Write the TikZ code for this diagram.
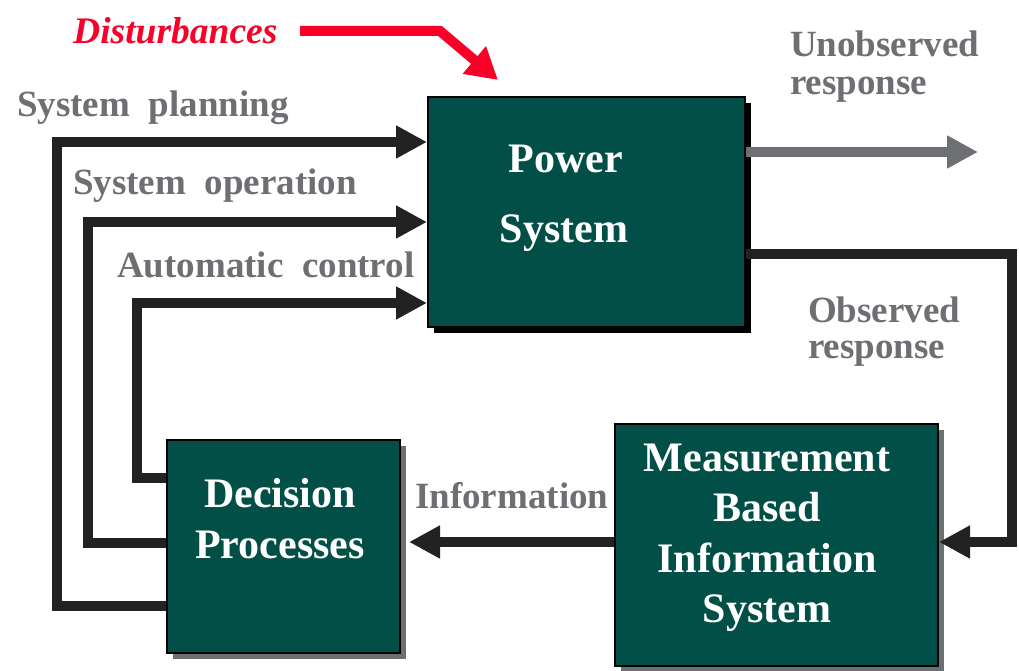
\documentclass[tikz,border=0pt]{standalone}
\usepackage{fontspec}
\setmainfont{Liberation Serif}
\usetikzlibrary{arrows.meta,shadows}
\definecolor{teal}{RGB}{2,79,72}
\definecolor{ink}{RGB}{34,34,34}
\definecolor{labelgray}{RGB}{110,111,114}
\definecolor{alertred}{RGB}{250,0,40}
\tikzset{
  block/.style={draw=black, line width=2pt, fill=teal, inner sep=0pt},
  darkshadow/.style={drop shadow={shadow xshift=6pt, shadow yshift=-6pt, fill=black, opacity=1}},
  grayshadow/.style={drop shadow={shadow xshift=6pt, shadow yshift=-6pt, fill=labelgray, opacity=1}},
  blocktext/.style={text=white, font=\fontsize{42}{50}\selectfont\bfseries, inner sep=0pt, anchor=base},
  flowlabel/.style={text=labelgray, font=\fontsize{37}{44}\selectfont\bfseries, inner sep=0pt, anchor=base west},
  flow/.style={draw=ink, line width=10pt, -{Triangle[length=31pt,width=31pt]}},
  loop/.style={flow, line join=miter},
}
\begin{document}
\begin{tikzpicture}[x=1pt,y=-1pt]
\useasboundingbox (0,0) rectangle (1019,671);

% blocks
\node[block, darkshadow, minimum width=317pt, minimum height=230pt] (ps) at (586.5,212) {};
\node[block, grayshadow, minimum width=233pt, minimum height=213pt] (dp) at (283.5,546.5) {};
\node[block, grayshadow, minimum width=323pt, minimum height=242pt] (mb) at (776.5,545) {};

\node[blocktext] (ps1) at (566,173) {Power};
\node[blocktext] (ps2) at (564,242) {System};
\node[blocktext] (dp1) at (280,507) {Decision};
\node[blocktext] (dp2) at (280,558) {Processes};
\node[blocktext] (mb1) at (767,471) {Measurement};
\node[blocktext] (mb2) at (767,521) {Based};
\node[blocktext] (mb3) at (767,572) {Information};
\node[blocktext] (mb4) at (767,622) {System};

% labels
\node[flowlabel, text=alertred, font=\fontsize{37.5}{44}\selectfont\bfseries\itshape] (dist) at (73,44) {Disturbances};
\node[flowlabel] (un1) at (790,57) {Unobserved};
\node[flowlabel] (un2) at (790,95) {response};
\node[flowlabel] (sp) at (17,117) {System\hspace{0.5em}planning};
\node[flowlabel] (so) at (73,194) {System\hspace{0.5em}operation};
\node[flowlabel] (ac) at (117,277) {Automatic\hspace{0.5em}control};
\node[flowlabel] (ob1) at (808,322) {Observed};
\node[flowlabel] (ob2) at (808,358) {response};
\node[flowlabel] (inf) at (415,508) {Information};

% route points
\coordinate (d0) at (300,31);
\coordinate (d1) at (440,31);
\coordinate (d2) at (498,80);
\coordinate (un) at (978,152);
\coordinate (o1) at (1012,254);
\coordinate (o2) at (1012,542);
\coordinate (pl) at (57,142);
\coordinate (op) at (88,222);
\coordinate (au) at (137,303);

% disturbances
\draw[line width=10pt, draw=alertred, line join=miter, -{Triangle[length=31pt,width=34pt]}] (d0) -- (d1) -- (d2);

% outputs
\draw[flow, draw=labelgray] (ps.east |- un) -- (un);
\draw[loop] (ps.east |- o1) -- (o1) -- (o2) -- (mb.east |- o2);
\draw[flow, shorten >=8pt] (mb.west |- o2) -- (dp.east |- o2);

% feedback paths
\draw[loop] (dp.west |- 0,606) -| (pl) -- (ps.west |- pl);
\draw[loop] (dp.west |- 0,543) -| (op) -- (ps.west |- op);
\draw[loop] (dp.west |- 0,478) -| (au) -- (ps.west |- au);
\end{tikzpicture}
\end{document}
